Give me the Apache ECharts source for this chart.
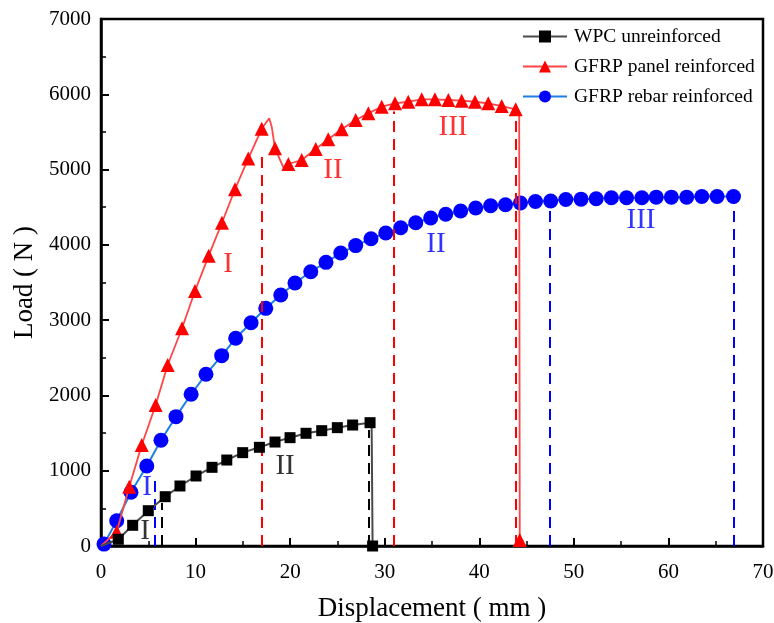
<!DOCTYPE html>
<html><head><meta charset="utf-8">
<script src="https://cdn.jsdelivr.net/npm/echarts@6/dist/echarts.min.js"></script>
<style>html,body{margin:0;padding:0;background:#fff}#c{width:774px;height:623px}</style>
</head><body><div id="c"></div>
<script>
// ---- data ----
const wpcX = [0, 1.83, 3.35, 5.00, 6.79, 8.35, 10.05, 11.74, 13.30, 14.98, 16.75, 18.40, 19.99, 21.68, 23.34, 24.99, 26.61, 28.45, 28.62, 28.72];
const wpcY = [0, 89, 275, 469, 655, 797, 930, 1045, 1142, 1240, 1311, 1381, 1439, 1497, 1532, 1572, 1607, 1638, 1560, 0];
const wpcMark = [0,1,1,1,1,1,1,1,1,1,1,1,1,1,1,1,1,1,0,1];

const panelX = [0, 1.66, 2.99, 4.31, 5.78, 7.05, 8.57, 9.94, 11.39, 12.79, 14.17, 15.57, 16.99, 17.79, 18.05, 18.40, 19.28, 19.81, 21.22, 22.70, 24.03, 25.45, 26.93, 28.27, 29.68, 31.09, 32.49, 33.91, 35.31, 36.73, 38.14, 39.55, 40.95, 42.37, 43.85, 44.22, 44.28];
const panelY = [0, 190, 788, 1341, 1873, 2404, 2892, 3387, 3856, 4294, 4738, 5147, 5541, 5681, 5569, 5282, 5030, 5074, 5127, 5273, 5402, 5535, 5658, 5747, 5835, 5880, 5901, 5933, 5933, 5924, 5915, 5901, 5880, 5844, 5800, 5760, 80];
const panelMark = [0,1,1,1,1,1,1,1,1,1,1,1,1,0,0,1,0,1,1,1,1,1,1,1,1,1,1,1,1,1,1,1,1,1,1,0,1];

const rebarX = [0.32, 1.66, 3.17, 4.84, 6.34, 7.93, 9.53, 11.10, 12.76, 14.24, 15.87, 17.42, 19.01, 20.51, 22.18, 23.79, 25.35, 26.93, 28.55, 30.11, 31.69, 33.28, 34.86, 36.45, 38.03, 39.62, 41.20, 42.77, 44.35, 45.94, 47.55, 49.15, 50.76, 52.36, 53.97, 55.57, 57.19, 58.71, 60.31, 61.93, 63.53, 65.14, 66.88];
const rebarY = [25, 336, 713, 1063, 1404, 1718, 2015, 2281, 2528, 2759, 2966, 3157, 3334, 3493, 3643, 3768, 3891, 3990, 4082, 4157, 4228, 4294, 4357, 4406, 4449, 4489, 4520, 4533, 4556, 4576, 4583, 4602, 4607, 4612, 4625, 4625, 4625, 4634, 4634, 4634, 4643, 4643, 4643];

// stage dividers: [x, top load]
const wpcDiv = [[6.42, 571], [28.26, 1540]];
const panelDiv = [[17.02, 5220], [30.98, 5770], [43.85, 5725]];
const rebarDiv = [[5.64, 900], [47.48, 4560], [66.94, 4620]];

// stage labels: [x, y, text]
const wpcLab = [[4.65, 190, 'I'], [19.46, 1063, 'II']];
const panelLab = [[13.43, 3745, 'I'], [24.53, 4994, 'II'], [37.22, 5565, 'III']];
const rebarLab = [[4.86, 784, 'I'], [35.42, 4011, 'II'], [57.1, 4330, 'III']];

const xTicks = {min: 0, max: 70, interval: 10};
const yTicks = {min: 0, max: 7000, interval: 1000};

// ---- build ----
const SERIF = "'Liberation Serif','DejaVu Serif',serif";
function pts(xs, ys, marks) {
  return xs.map((x, i) => {
    const it = {value: [x, ys[i]]};
    if (marks && !marks[i]) it.symbol = 'none';
    return it;
  });
}
function divLines(arr, color) {
  return {
    silent: true, symbol: ['none', 'none'], label: {show: false},
    lineStyle: {color: color, width: 2, type: [11, 7]},
    data: arr.map(d => [{coord: [d[0], 0]}, {coord: [d[0], d[1]]}])
  };
}
function labSeries(arr, color) {
  return {
    type: 'scatter', symbolSize: 0, silent: true, z: 20,
    data: arr.map(d => ({value: [d[0], d[1]], name: d[2]})),
    label: {show: true, position: 'inside', formatter: p => p.name,
      color: color, fontFamily: SERIF, fontSize: 29}
  };
}

const chart = echarts.init(document.getElementById('c'));
chart.setOption({
  animation: false,
  backgroundColor: '#fff',
  grid: {left: 101, right: 11, top: 19, bottom: 77, outerBoundsMode: 'none', containLabel: false,
    show: true, borderColor: '#000', borderWidth: 2.5, backgroundColor: 'transparent'},
  legend: {
    data: ['WPC unreinforced', 'GFRP panel reinforced', 'GFRP rebar reinforced'],
    orient: 'vertical', left: 517, top: 21, itemWidth: 44, itemHeight: 15, itemGap: 9,
    textStyle: {fontFamily: SERIF, fontSize: 19.5, color: '#000', lineHeight: 21, padding: [0, 0, 0, 2]}
  },
  xAxis: {
    type: 'value', min: xTicks.min, max: xTicks.max, interval: xTicks.interval,
    name: 'Displacement ( mm )', nameLocation: 'middle', nameGap: 49,
    nameTextStyle: {fontFamily: SERIF, fontSize: 27, color: '#000'},
    axisLine: {show: true, lineStyle: {color: '#000', width: 2.5}},
    axisTick: {show: true, inside: true, length: 8, lineStyle: {color: '#000', width: 2}},
    minorTick: {show: true, splitNumber: 2, length: 5, lineStyle: {color: '#000', width: 1.5}},
    axisLabel: {fontFamily: SERIF, fontSize: 21, color: '#000', margin: 16, formatter: v => String(v)},
    splitLine: {show: false}
  },
  yAxis: {
    type: 'value', min: yTicks.min, max: yTicks.max, interval: yTicks.interval,
    name: 'Load ( N )', nameLocation: 'middle', nameGap: 63,
    nameTextStyle: {fontFamily: SERIF, fontSize: 27, color: '#000'},
    axisLine: {show: true, lineStyle: {color: '#000', width: 2.5}},
    axisTick: {show: true, inside: true, length: 8, lineStyle: {color: '#000', width: 2}},
    minorTick: {show: true, splitNumber: 2, length: 5, lineStyle: {color: '#000', width: 1.5}},
    axisLabel: {fontFamily: SERIF, fontSize: 21, color: '#000', margin: 10, formatter: v => String(v)},
    splitLine: {show: false}
  },
  series: [
    {
      name: 'WPC unreinforced', type: 'line', data: pts(wpcX, wpcY, wpcMark),
      symbol: 'rect', symbolSize: 11, showAllSymbol: true, z: 5,
      itemStyle: {color: '#000'}, lineStyle: {color: '#4a4a4a', width: 2},
      markLine: divLines(wpcDiv, '#000')
    },
    {
      name: 'GFRP panel reinforced', type: 'line', data: pts(panelX, panelY, panelMark),
      symbol: 'triangle', symbolSize: 14, showAllSymbol: true, z: 4,
      itemStyle: {color: '#ff0000'}, lineStyle: {color: '#ff4545', width: 1.8},
      markLine: divLines(panelDiv, '#ff0000')
    },
    {
      name: 'GFRP rebar reinforced', type: 'line', data: pts(rebarX, rebarY, null),
      symbol: 'circle', symbolSize: 15, showAllSymbol: true, z: 3,
      itemStyle: {color: '#0000ff'}, lineStyle: {color: '#1e7fe0', width: 2},
      markLine: divLines(rebarDiv, '#0000ff')
    },
    labSeries(wpcLab, '#000'),
    labSeries(panelLab, '#ff0000'),
    labSeries(rebarLab, '#0000ff')
  ]
});
</script></body></html>
